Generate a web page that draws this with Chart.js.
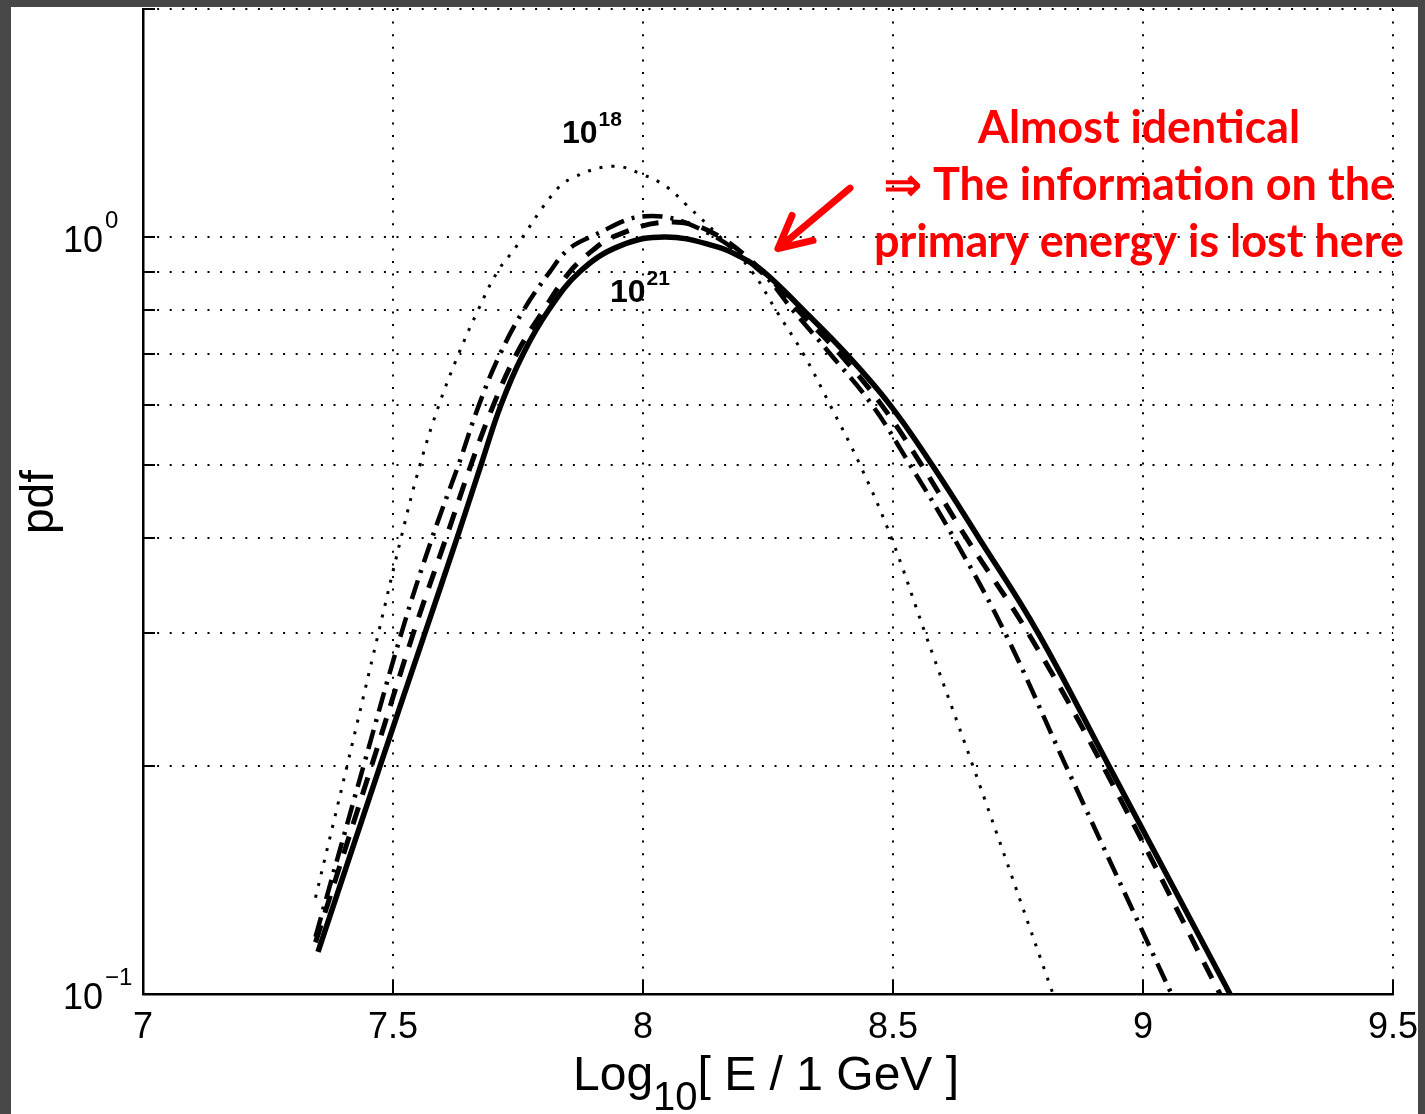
<!DOCTYPE html>
<html>
<head>
<meta charset="utf-8">
<title>pdf vs Log10 E</title>
<script src="https://cdn.jsdelivr.net/npm/chart.js@4.4.1/dist/chart.umd.min.js"></script>
<style>
  html, body { margin: 0; padding: 0; background: #474747; }
  canvas { display: block; }
</style>
</head>
<body>
<canvas id="chart" width="1425" height="1114"></canvas>
<script>
// values: x = Log10[E / 1 GeV], y = pdf
const xE18 = [7.345, 7.408, 7.471, 7.516, 7.554, 7.592, 7.631, 7.670, 7.709, 7.742, 7.82, 7.857, 7.94, 8.0, 8.047, 8.087, 8.154, 8.218, 8.266, 8.321, 8.374, 8.434, 8.497, 8.564, 8.66, 8.82];
const pdfE18 = [0.134, 0.2, 0.3, 0.4, 0.5, 0.6, 0.7, 0.8, 0.9, 0.962, 1.14, 1.195, 1.24, 1.208, 1.165, 1.102, 1.0, 0.9, 0.8, 0.7, 0.6, 0.5, 0.4, 0.3, 0.2, 0.1];

const xE19 = [7.345, 7.441, 7.517, 7.578, 7.631, 7.672, 7.714, 7.761, 7.814, 7.85, 7.895, 8.005, 8.12, 8.235, 8.30, 8.375, 8.458, 8.534, 8.622, 8.724, 8.846, 9.057];
const pdfE19 = [0.119, 0.2, 0.3, 0.4, 0.5, 0.6, 0.7, 0.8, 0.9, 0.962, 1.0, 1.065, 1.02, 0.9, 0.8, 0.7, 0.6, 0.5, 0.4, 0.3, 0.2, 0.1];

const xE20 = [7.345, 7.457, 7.541, 7.606, 7.656, 7.701, 7.747, 7.801, 7.854, 7.901, 7.94, 8.04, 8.13, 8.24, 8.31, 8.394, 8.477, 8.557, 8.647, 8.77, 8.92, 9.154];
const pdfE20 = [0.117, 0.2, 0.3, 0.4, 0.5, 0.6, 0.7, 0.8, 0.9, 0.962, 1.0, 1.045, 1.02, 0.9, 0.8, 0.7, 0.6, 0.5, 0.4, 0.3, 0.2, 0.1];

const xE21 = [7.35, 7.474, 7.564, 7.628, 7.676, 7.716, 7.76, 7.811, 7.874, 7.954, 8.045, 8.147, 8.194, 8.241, 8.321, 8.407, 8.494, 8.578, 8.672, 8.79, 8.932, 9.174];
const pdfE21 = [0.1137, 0.2, 0.3, 0.4, 0.5, 0.6, 0.7, 0.8, 0.9, 0.973, 1.0, 0.971, 0.942, 0.9, 0.8, 0.7, 0.6, 0.5, 0.4, 0.3, 0.2, 0.1];

const xTicks = [7, 7.5, 8, 8.5, 9, 9.5];
const xTickLabels = ['7', '7.5', '8', '8.5', '9', '9.5'];
const yTicks = [0.1, 0.2, 0.3, 0.4, 0.5, 0.6, 0.7, 0.8, 0.9, 1, 2];
const yLabelValues = [0.1, 1];
const yLabelExps = ['\u22121', '0'];

const noteLines = ['Almost identical', '\u21D2 The information on the', 'primary energy is lost here'];

function pts(xs, ys) {
    return xs.map((x, i) => ({ x: x, y: ys[i] }));
}

const helv = '"Liberation Sans", Arial, Helvetica, sans-serif';

// draws the matlab-like decorations: inward ticks, labels, note, arrow
const decorations = {
    id: 'decorations',
    beforeDraw(chart) {
        const c = chart.ctx;
        c.save();
        c.fillStyle = '#474747';
        c.fillRect(0, 0, chart.width, chart.height);
        c.fillStyle = '#ffffff';
        c.fillRect(11, 7, 1407, 1107);
        c.restore();
    },
    afterDraw(chart) {
        const c = chart.ctx;
        const xs = chart.scales.x;
        const ys = chart.scales.y;
        const a = chart.chartArea;
        c.save();

        // ticks pointing inwards
        c.strokeStyle = '#000';
        c.lineWidth = 2;
        xTicks.forEach(v => {
            const px = Math.round(xs.getPixelForValue(v));
            c.beginPath();
            c.moveTo(px, a.bottom);
            c.lineTo(px, a.bottom - 13);
            c.stroke();
        });
        yTicks.forEach(v => {
            const py = Math.round(ys.getPixelForValue(v));
            c.beginPath();
            c.moveTo(a.left, py);
            c.lineTo(a.left + 12, py);
            c.stroke();
        });

        c.fillStyle = '#000';
        c.textBaseline = 'alphabetic';

        // x tick labels
        c.font = '36px ' + helv;
        c.textAlign = 'center';
        xTicks.forEach((v, i) => {
            c.fillText(xTickLabels[i], xs.getPixelForValue(v), a.bottom + 44);
        });

        // y tick labels 10^n
        yLabelValues.forEach((v, i) => {
            const py = ys.getPixelForValue(v);
            c.font = '36px ' + helv;
            c.textAlign = 'right';
            c.fillText('10', a.left - 40, py + 15);
            c.font = '24px ' + helv;
            c.textAlign = 'left';
            c.fillText(yLabelExps[i], a.left - 38, py - 9);
        });

        // x axis title with subscript
        const big = '48px ' + helv;
        const small = '40px ' + helv;
        c.font = big;
        const w1 = c.measureText('Log').width;
        const w3 = c.measureText('[ E / 1 GeV ]').width;
        c.font = small;
        const w2 = c.measureText('10').width;
        const tx = 766 - (w1 + w2 + w3) / 2;
        c.textAlign = 'left';
        c.font = big;
        c.fillText('Log', tx, 1090);
        c.font = small;
        c.fillText('10', tx + w1, 1110);
        c.font = big;
        c.fillText('[ E / 1 GeV ]', tx + w1 + w2, 1090);

        // y axis title
        c.save();
        c.translate(40, 502);
        c.rotate(-Math.PI / 2);
        c.textAlign = 'center';
        c.textBaseline = 'middle';
        c.font = '46px ' + helv;
        c.fillText('pdf', 0, 0);
        c.restore();

        // curve labels
        const supLabel = (xv, yv, base, exp) => {
            const px = xs.getPixelForValue(xv);
            const py = ys.getPixelForValue(yv);
            c.textAlign = 'left';
            c.font = 'bold 32px ' + helv;
            c.fillText(base, px, py);
            const bw = c.measureText(base).width;
            c.font = 'bold 21px ' + helv;
            c.fillText(exp, px + bw + 1, py - 17);
        };
        supLabel(7.838, 1.331, '10', '18');
        supLabel(7.934, 0.820, '10', '21');

        // red note
        c.fillStyle = '#ff0000';
        c.textAlign = 'center';
        c.font = 'bold 45px Lato, "Open Sans", sans-serif';
        const maxW = [322, 522, 530];
        const baseY = [143, 200, 257];
        noteLines.forEach((t, i) => c.fillText(t, 1139, baseY[i], maxW[i]));

        // red arrow
        const tail = { x: xs.getPixelForValue(8.414), y: ys.getPixelForValue(1.16) };
        const tip = { x: xs.getPixelForValue(8.27), y: ys.getPixelForValue(0.965) };
        const ang = Math.atan2(tail.y - tip.y, tail.x - tip.x);
        c.strokeStyle = '#ff0000';
        c.lineWidth = 7;
        c.lineCap = 'round';
        c.lineJoin = 'round';
        c.beginPath();
        c.moveTo(tail.x, tail.y);
        c.lineTo(tip.x, tip.y);
        c.moveTo(tip.x + 36 * Math.cos(ang - 0.47), tip.y + 36 * Math.sin(ang - 0.47));
        c.lineTo(tip.x, tip.y);
        c.lineTo(tip.x + 36 * Math.cos(ang + 0.47), tip.y + 36 * Math.sin(ang + 0.47));
        c.stroke();

        c.restore();
    }
};

const gridStyle = { color: '#000', lineWidth: 2, drawTicks: false };
const borderStyle = { display: true, color: '#000', width: 2.5, dash: [2, 10.6] };

new Chart(document.getElementById('chart'), {
    type: 'line',
    data: {
        datasets: [
            {
                label: '1e18',
                data: pts(xE18, pdfE18),
                borderColor: '#000',
                borderWidth: 3,
                borderDash: [3, 9]
            },
            {
                label: '1e19',
                data: pts(xE19, pdfE19),
                borderColor: '#000',
                borderWidth: 4.5,
                borderDash: [20, 8, 3, 8]
            },
            {
                label: '1e20',
                data: pts(xE20, pdfE20),
                borderColor: '#000',
                borderWidth: 5,
                borderDash: [18, 13]
            },
            {
                label: '1e21',
                data: pts(xE21, pdfE21),
                borderColor: '#000',
                borderWidth: 5.5
            }
        ]
    },
    options: {
        responsive: false,
        animation: false,
        devicePixelRatio: 1,
        layout: { padding: { left: 143, top: 9, right: 32, bottom: 120 } },
        elements: {
            point: { radius: 0 },
            line: { tension: 0.4, fill: false }
        },
        plugins: {
            legend: { display: false },
            tooltip: { enabled: false }
        },
        scales: {
            x: {
                type: 'linear',
                min: 7,
                max: 9.5,
                afterBuildTicks: s => { s.ticks = xTicks.map(v => ({ value: v })); },
                ticks: { display: false },
                grid: gridStyle,
                border: borderStyle
            },
            y: {
                type: 'logarithmic',
                min: 0.1,
                max: 2,
                afterBuildTicks: s => { s.ticks = yTicks.map(v => ({ value: v })); },
                ticks: { display: false },
                grid: gridStyle,
                border: borderStyle
            }
        }
    },
    plugins: [decorations]
});
</script>
</body>
</html>
